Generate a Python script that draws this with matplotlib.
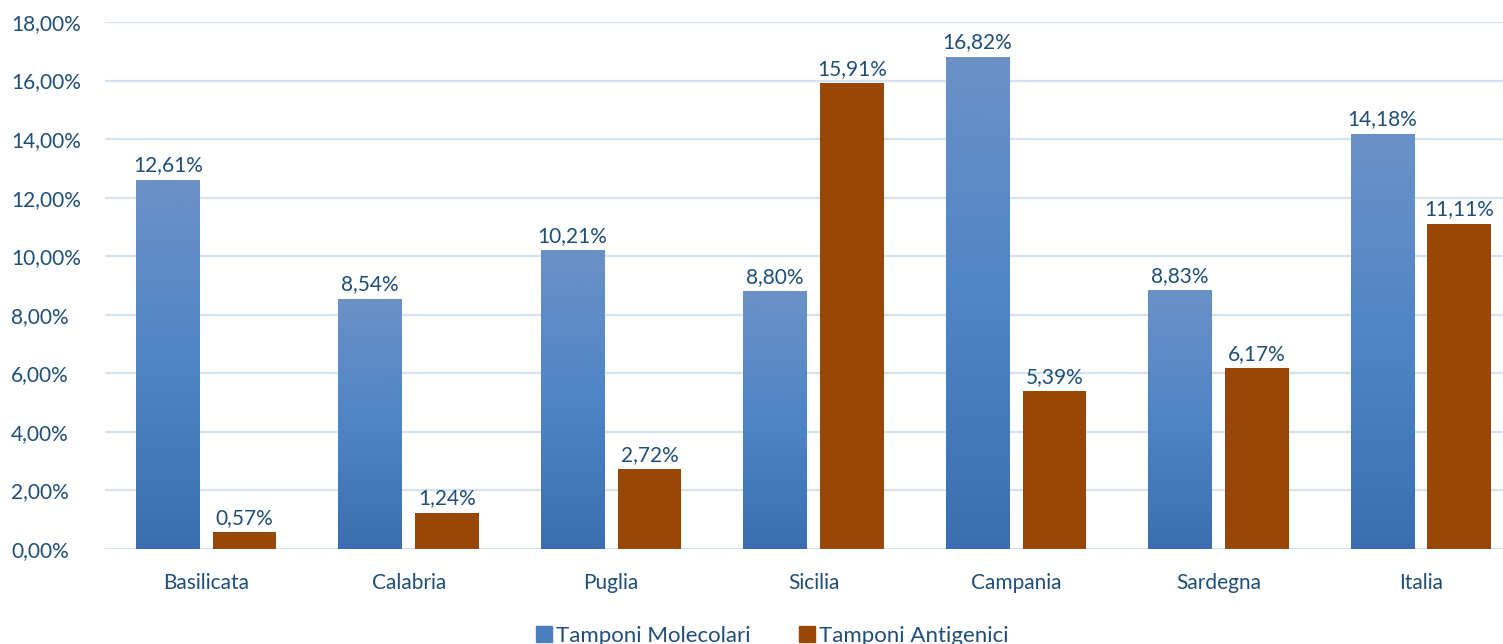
import numpy as np
import matplotlib
matplotlib.use('Agg')
from matplotlib import pyplot as plt
from matplotlib.colors import LinearSegmentedColormap
from matplotlib.patches import Patch

regions = ['Basilicata', 'Calabria', 'Puglia', 'Sicilia', 'Campania', 'Sardegna', 'Italia']
molecolari = [12.61, 8.54, 10.21, 8.80, 16.82, 8.83, 14.18]
antigenici = [0.57, 1.24, 2.72, 15.91, 5.39, 6.17, 11.11]
yticks = [0, 2, 4, 6, 8, 10, 12, 14, 16, 18]

text_col = '#1f4e79'
brown = '#994706'
grid_col = '#d6e1f1'

plt.rcParams['font.family'] = ['Lato', 'DejaVu Sans']

fig = plt.figure(figsize=(15.03, 6.44), dpi=100)
ax = fig.add_axes([105 / 1503, 95 / 644, 1417 / 1503, 527 / 644])

x = np.arange(len(regions))
w = 0.314
off = 0.19
blue_bars = ax.bar(x - off, molecolari, w, color='#4f81bd', zorder=2)
brown_bars = ax.bar(x + off, antigenici, w, color=brown, zorder=2)

# vertical gradient on blue bars
cmap = LinearSegmentedColormap.from_list('g', ['#3a6eb0', '#4f84c6', '#6a92c6'])
grad = np.linspace(0, 1, 256).reshape(-1, 1)
for b in blue_bars:
    bx = b.get_x()
    im = ax.imshow(grad, extent=[bx, bx + b.get_width(), 0, b.get_height()],
                   origin='lower', aspect='auto', cmap=cmap, zorder=2.1)
    im.set_clip_path(b)

ax.set_xlim(-0.5, len(regions) - 0.5)
ax.set_ylim(0, 18)
ax.set_yticks(yticks)
ax.set_yticklabels(['%d,00%%' % v for v in yticks], fontsize=15, color=text_col)
ax.set_xticks(x)
ax.set_xticklabels(regions, fontsize=15, color=text_col)
ax.tick_params(length=0, pad=17, axis='x')
ax.tick_params(axis='y', length=0, pad=0)
for lab in ax.get_yticklabels():
    lab.set_horizontalalignment('left')
    lab.set_x(-105 / 1417 + 11 / 1417)
ax.grid(axis='y', color=grid_col, linewidth=1.6, zorder=0)
for s in ax.spines.values():
    s.set_visible(False)

for bars, vals in ((blue_bars, molecolari), (brown_bars, antigenici)):
    for b, v in zip(bars, vals):
        ax.text(b.get_x() + b.get_width() / 2, v + 0.15, ('%.2f%%' % v).replace('.', ','),
                ha='center', va='bottom', fontsize=15, color=text_col, zorder=3)

handles = [Patch(color='#4a7dbf'), Patch(color=brown)]
fig.legend(handles, ['Tamponi Molecolari', 'Tamponi Antigenici'], loc='center',
           bbox_to_anchor=(0.514, 8 / 644), ncol=2, frameon=False, fontsize=16,
           labelcolor=text_col, handlelength=0.7, handleheight=0.7,
           handletextpad=0.2, columnspacing=2.2)

fig.savefig('out.png', dpi=100)
